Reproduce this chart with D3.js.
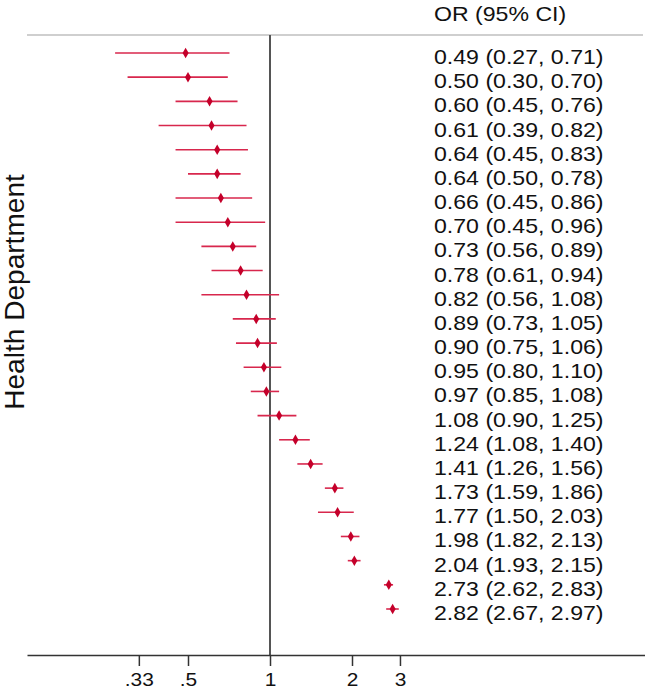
<!DOCTYPE html>
<html>
<head>
<meta charset="utf-8">
<script src="https://cdn.jsdelivr.net/npm/d3@7"></script>
<style>
  body { margin: 0; background: #fff; }
  svg { display: block; font-family: "Liberation Sans", Arial, sans-serif; }
</style>
</head>
<body>
<svg></svg>
<script>
  // odds ratios and 95% CI, one per health department (top to bottom)
  var oddsRatio = [0.49, 0.50, 0.60, 0.61, 0.64, 0.64, 0.66, 0.70, 0.73, 0.78, 0.82, 0.89,
                   0.90, 0.95, 0.97, 1.08, 1.24, 1.41, 1.73, 1.77, 1.98, 2.04, 2.73, 2.82];
  var ciLow =     [0.27, 0.30, 0.45, 0.39, 0.45, 0.50, 0.45, 0.45, 0.56, 0.61, 0.56, 0.73,
                   0.75, 0.80, 0.85, 0.90, 1.08, 1.26, 1.59, 1.50, 1.82, 1.93, 2.62, 2.67];
  var ciHigh =    [0.71, 0.70, 0.76, 0.82, 0.83, 0.78, 0.86, 0.96, 0.89, 0.94, 1.08, 1.05,
                   1.06, 1.10, 1.08, 1.25, 1.40, 1.56, 1.86, 2.03, 2.13, 2.15, 2.83, 2.97];
  var tickValues = [0.33, 0.5, 1, 2, 3];
  var tickLabels = [".33", ".5", "1", "2", "3"];

  var width = 645, height = 695;
  var svg = d3.select("svg").attr("width", width).attr("height", height);

  // log scale: 0.5 -> 188, 2 -> 352, then stretched to the full axis line
  var x = d3.scaleLog().domain([0.5, 2]).range([188, 352]);
  x.domain([x.invert(27), x.invert(645)]).range([27, 645]);

  var y = d3.scalePoint().domain(d3.range(oddsRatio.length)).range([53, 609]);

  var fmt = d3.format(".2f");
  var rows = oddsRatio.map(function(d, i) {
    return { or: d, lo: ciLow[i], hi: ciHigh[i], i: i };
  });

  // stretch text a little wider, like the original export
  var stretch = function(sel, k) {
    k = k || 1.1;
    sel.each(function() {
      var len = this.getComputedTextLength();
      d3.select(this).attr("textLength", len * k).attr("lengthAdjust", "spacingAndGlyphs");
    });
  };

  // header line
  svg.append("line")
    .attr("x1", 27).attr("x2", 643)
    .attr("y1", 35).attr("y2", 35)
    .attr("stroke", "#cfcfcf").attr("stroke-width", 2);

  // null line at OR = 1
  svg.append("line")
    .attr("x1", x(1)).attr("x2", x(1))
    .attr("y1", 35).attr("y2", 655)
    .attr("stroke", "#555").attr("stroke-width", 2);

  // axis
  var axis = d3.axisBottom(x)
    .tickValues(tickValues)
    .tickFormat(function(d, i) { return tickLabels[i]; })
    .tickSize(11)
    .tickSizeOuter(0)
    .tickPadding(7);

  var gx = svg.append("g").attr("transform", "translate(0,655)").call(axis);
  gx.select(".domain").attr("stroke", "#333").attr("stroke-width", 1.5);
  gx.selectAll(".tick line").attr("stroke", "#333").attr("stroke-width", 1.5);
  gx.selectAll(".tick text")
    .attr("font-size", 19).attr("fill", "#111")
    .attr("font-family", "Liberation Sans, Arial, sans-serif")
    .call(stretch);

  // CI lines
  svg.selectAll("line.ci").data(rows).enter()
    .append("line")
    .attr("class", "ci")
    .attr("x1", function(d) { return x(d.lo); })
    .attr("x2", function(d) { return x(d.hi); })
    .attr("y1", function(d) { return y(d.i); })
    .attr("y2", function(d) { return y(d.i); })
    .attr("stroke", "#d8274d").attr("stroke-width", 1.6);

  // point estimates
  svg.selectAll("path.pt").data(rows).enter()
    .append("path")
    .attr("class", "pt")
    .attr("transform", function(d) { return "translate(" + x(d.or) + "," + y(d.i) + ")"; })
    .attr("d", d3.symbol().type(d3.symbolDiamond).size(32))
    .attr("fill", "#c4002a");

  // OR (95% CI) column
  svg.append("text")
    .attr("x", 434).attr("y", 21)
    .attr("font-size", 21).attr("fill", "#111")
    .text("OR (95% CI)")
    .call(stretch);

  svg.selectAll("text.lab").data(rows).enter()
    .append("text")
    .attr("class", "lab")
    .attr("x", 434)
    .attr("y", function(d) { return y(d.i) + 11; })
    .attr("font-size", 21).attr("fill", "#111")
    .text(function(d) { return fmt(d.or) + " (" + fmt(d.lo) + ", " + fmt(d.hi) + ")"; })
    .call(stretch);

  // y axis title
  svg.append("text")
    .attr("transform", "translate(24,292) rotate(-90)")
    .attr("text-anchor", "middle")
    .attr("font-size", 27).attr("fill", "#111")
    .text("Health Department")
    .call(stretch, 1.04);
</script>
</body>
</html>
